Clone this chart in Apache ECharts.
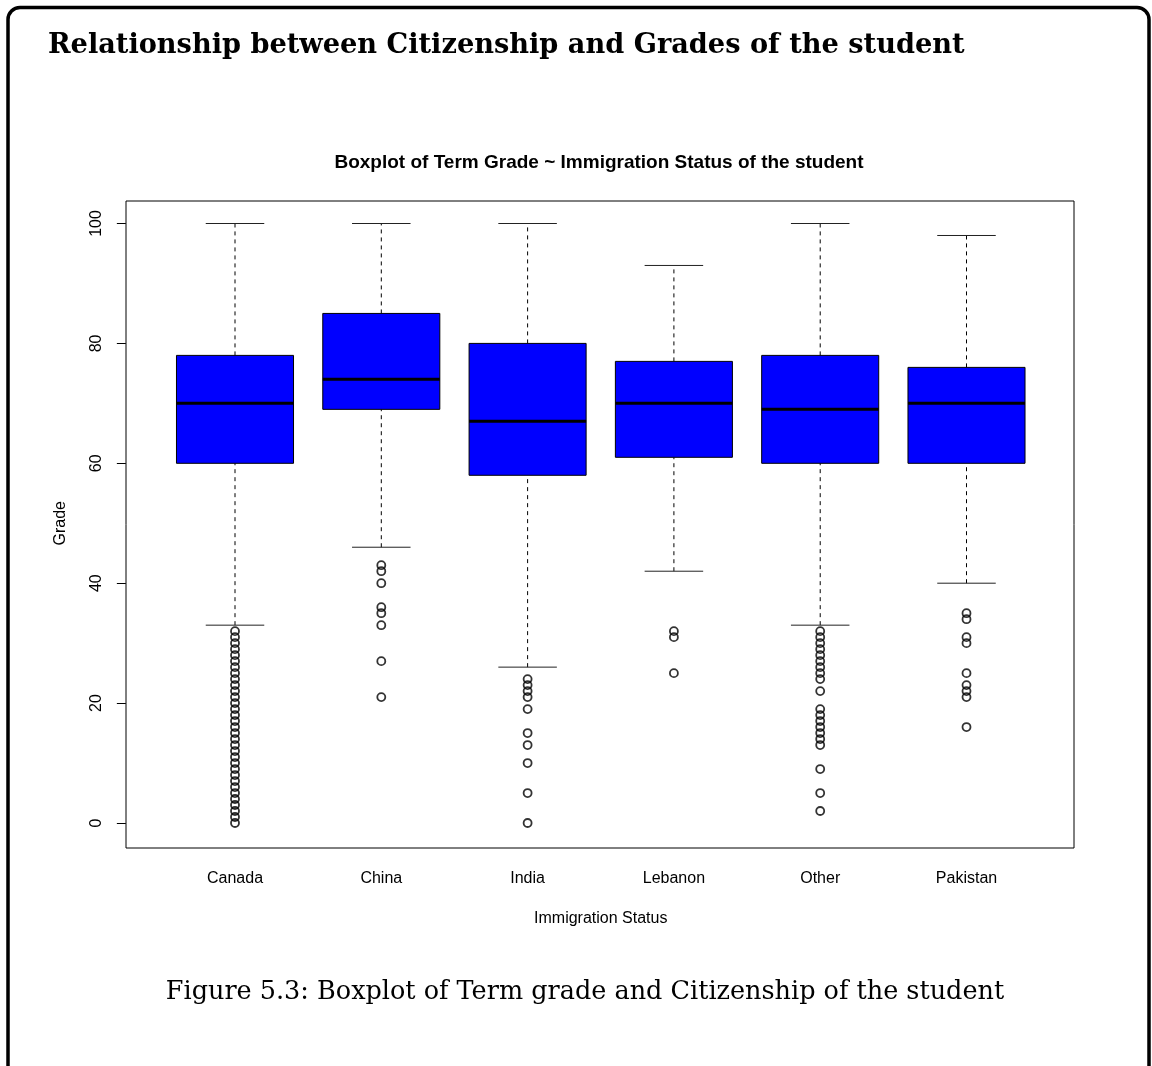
<!DOCTYPE html>
<html>
<head>
<meta charset="utf-8">
<script src="https://cdn.jsdelivr.net/npm/echarts@6/dist/echarts.min.js"></script>
<style>
  html, body { margin: 0; padding: 0; background: #fff; }
  #main { width: 1152px; height: 1066px; }
</style>
</head>
<body>
<div id="main"></div>
<script>
// categories
const countries = ["Canada", "China", "India", "Lebanon", "Other", "Pakistan"];
// five-number summary per country (whisker ends, hinges, median)
const lowerWhisker = [33, 46, 26, 42, 33, 40];
const q1 = [60, 69, 58, 61, 60, 60];
const median = [70, 74, 67, 70, 69, 70];
const q3 = [78, 85, 80, 77, 78, 76];
const upperWhisker = [100, 100, 100, 93, 100, 98];
// outliers
const outCanada = [32, 31, 30, 29, 28, 27, 26, 25, 24, 23, 22, 21, 20, 19, 18, 17, 16, 15, 14, 13, 12, 11, 10, 9, 8, 7, 6, 5, 4, 3, 2, 1, 0];
const outChina = [43, 42, 40, 36, 35, 33, 27, 21];
const outIndia = [24, 23, 22, 21, 19, 15, 13, 10, 5, 0];
const outLebanon = [32, 31, 25];
const outOther = [32, 31, 30, 29, 28, 27, 26, 25, 24, 22, 19, 18, 17, 16, 15, 14, 13, 9, 5, 2];
const outPakistan = [35, 34, 31, 30, 25, 23, 22, 21, 16];
const yTicks = [0, 20, 40, 60, 80, 100];

const outliers = [outCanada, outChina, outIndia, outLebanon, outOther, outPakistan];

let boxData = countries.map((c, i) => [i, lowerWhisker[i], q1[i], median[i], q3[i], upperWhisker[i]]);
let outlierData = [];
outliers.forEach((arr, i) => {
  arr.forEach((v) => outlierData.push([i, v]));
});

const sans = "Liberation Sans, Arial, sans-serif";

// R style box: dashed whiskers, half-width staples, filled box, thick median
function renderBox(params, api) {
  let x = api.value(0);
  let pLow = api.coord([x, api.value(1)]);
  let pQ1 = api.coord([x, api.value(2)]);
  let pMed = api.coord([x, api.value(3)]);
  let pQ3 = api.coord([x, api.value(4)]);
  let pHigh = api.coord([x, api.value(5)]);
  let bw = api.size([1, 0])[0] * 0.8;
  let cx = pMed[0];
  let thin = { stroke: "#222", lineWidth: 1 };
  let dashed = { stroke: "#000", lineWidth: 1, lineDash: [4, 4] };
  return {
    type: "group",
    children: [
      { type: "line", shape: { x1: cx, y1: pLow[1], x2: cx, y2: pQ1[1] }, style: dashed },
      { type: "line", shape: { x1: cx, y1: pQ3[1], x2: cx, y2: pHigh[1] }, style: dashed },
      { type: "line", shape: { x1: cx - bw / 4, y1: pLow[1], x2: cx + bw / 4, y2: pLow[1] }, style: thin },
      { type: "line", shape: { x1: cx - bw / 4, y1: pHigh[1], x2: cx + bw / 4, y2: pHigh[1] }, style: thin },
      {
        type: "rect",
        shape: { x: cx - bw / 2, y: pQ3[1], width: bw, height: pQ1[1] - pQ3[1] },
        style: { fill: "#0000ff", stroke: "#000", lineWidth: 1 },
      },
      { type: "line", shape: { x1: cx - bw / 2, y1: pMed[1], x2: cx + bw / 2, y2: pMed[1] }, style: { stroke: "#000", lineWidth: 3 } },
    ],
  };
}

const chart = echarts.init(document.getElementById("main"), null, { renderer: "canvas" });
chart.setOption({
  backgroundColor: "#fff",
  animation: false,
  title: [
    {
      text: "Relationship between Citizenship and Grades of the student",
      left: 43,
      top: 27,
      textStyle: { fontFamily: "DejaVu Serif", fontWeight: "bold", fontSize: 27.2, color: "#000" },
    },
    {
      text: "Boxplot of Term Grade ~ Immigration Status of the student",
      left: 594,
      textAlign: "center",
      top: 148,
      textStyle: { fontFamily: sans, fontWeight: "bold", fontSize: 19, color: "#000" },
    },
    {
      text: "Figure 5.3: Boxplot of Term grade and Citizenship of the student",
      left: 580,
      textAlign: "center",
      top: 974,
      textStyle: { fontFamily: "DejaVu Serif", fontWeight: "normal", fontSize: 25.5, color: "#000" },
    },
  ],
  graphic: [
    {
      type: "rect",
      shape: { x: 8, y: 7.5, width: 1141, height: 1100, r: [12, 12, 0, 0] },
      style: { fill: "none", stroke: "#000", lineWidth: 3.5 },
      silent: true,
    },
  ],
  grid: [
    // plot frame
    { left: 126, right: 78, top: 201, bottom: 218, show: true, borderColor: "#000", borderWidth: 1, backgroundColor: "transparent" },
    // data area
    { left: 161.85, right: 112.35, top: 223.5, bottom: 243 },
  ],
  xAxis: [
    { gridIndex: 0, type: "value", show: false },
    {
      gridIndex: 1,
      type: "category",
      data: countries,
      boundaryGap: true,
      offset: 25,
      name: "Immigration Status",
      nameLocation: "middle",
      nameGap: 63,
      nameTextStyle: { fontFamily: sans, fontSize: 16, color: "#000" },
      axisLine: { show: false },
      axisTick: { alignWithLabel: true, length: 9, lineStyle: { color: "#000" } },
      axisLabel: { fontFamily: sans, fontSize: 16, color: "#000", margin: 23 },
      splitLine: { show: false },
    },
  ],
  yAxis: [
    { gridIndex: 0, type: "value", show: false },
    {
      gridIndex: 1,
      type: "value",
      min: yTicks[0],
      max: yTicks[yTicks.length - 1],
      interval: 20,
      offset: 36,
      name: "Grade",
      nameLocation: "middle",
      nameGap: 57,
      nameTextStyle: { fontFamily: sans, fontSize: 16, color: "#000" },
      axisLine: { show: false },
      axisTick: { show: true, length: 9, lineStyle: { color: "#000" } },
      axisLabel: { fontFamily: sans, fontSize: 16, color: "#000", rotate: 90, margin: 21 },
      splitLine: { show: false },
    },
  ],
  series: [
    {
      type: "custom",
      xAxisIndex: 1,
      yAxisIndex: 1,
      renderItem: renderBox,
      encode: { x: 0, y: [1, 2, 3, 4, 5] },
      data: boxData,
      clip: false,
      z: 2,
    },
    {
      type: "scatter",
      xAxisIndex: 1,
      yAxisIndex: 1,
      symbol: "circle",
      symbolSize: 8,
      itemStyle: { color: "transparent", borderColor: "#000", borderWidth: 1.8 },
      data: outlierData,
      clip: false,
      z: 3,
    },
  ],
});
</script>
</body>
</html>
